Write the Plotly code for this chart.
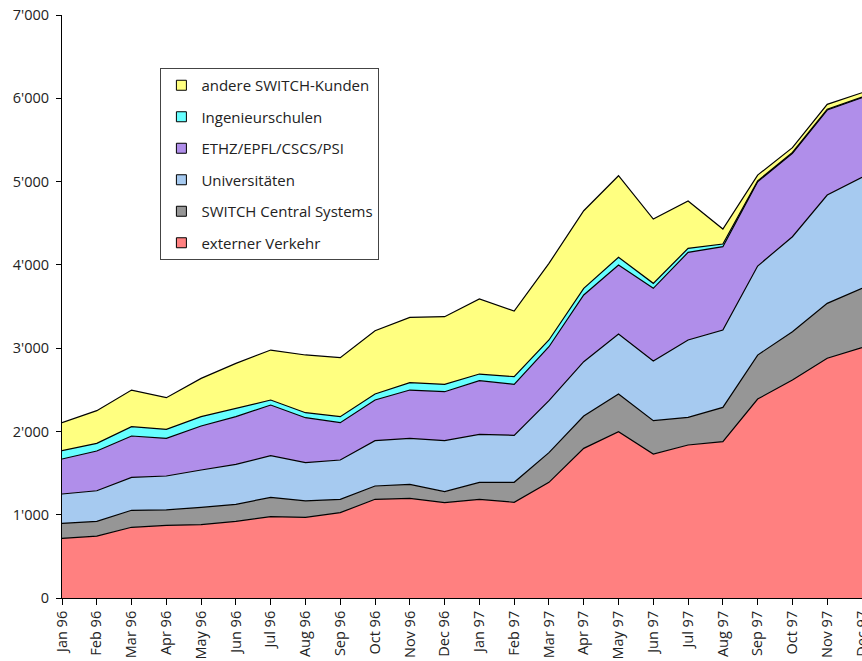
import plotly.graph_objects as go

months = ["Jan 96", "Feb 96", "Mar 96", "Apr 96", "May 96", "Jun 96", "Jul 96", "Aug 96",
          "Sep 96", "Oct 96", "Nov 96", "Dec 96", "Jan 97", "Feb 97", "Mar 97", "Apr 97",
          "May 97", "Jun 97", "Jul 97", "Aug 97", "Sep 97", "Oct 97", "Nov 97", "Dec 97"]

extern = [717, 744, 849, 873, 881, 921, 976, 969, 1025, 1185, 1197, 1144,
          1185, 1149, 1389, 1797, 1997, 1729, 1837, 1877, 2389, 2617, 2878, 3006]
central = [180, 177, 204, 184, 208, 204, 233, 196, 160, 160, 168, 133,
           204, 240, 356, 388, 452, 400, 332, 412, 528, 581, 660, 712]
unis = [352, 367, 396, 408, 448, 480, 500, 460, 472, 544, 552, 612,
        576, 564, 624, 652, 721, 716, 929, 929, 1069, 1140, 1300, 1333]
eth = [420, 477, 496, 452, 528, 572, 608, 540, 448, 488, 580, 588,
       644, 612, 648, 801, 828, 873, 1052, 1000, 1012, 1001, 1021, 956]
ing = [100, 92, 112, 108, 112, 100, 60, 60, 72, 72, 88, 88,
       80, 92, 81, 80, 92, 60, 48, 32, 10, 10, 10, 8]
andere = [336, 392, 440, 380, 460, 540, 600, 693, 708, 760, 785, 813,
          901, 789, 920, 932, 980, 772, 568, 180, 70, 58, 58, 52]

y_ticks = [0, 1000, 2000, 3000, 4000, 5000, 6000, 7000]
y_labels = ["0", "1'000", "2'000", "3'000", "4'000", "5'000", "6'000", "7'000"]

series = [
    ("externer Verkehr", extern, "#FF8080"),
    ("SWITCH Central Systems", central, "#969696"),
    ("Universitäten", unis, "#A6CAF0"),
    ("ETHZ/EPFL/CSCS/PSI", eth, "#B08EEA"),
    ("Ingenieurschulen", ing, "#66FFFF"),
    ("andere SWITCH-Kunden", andere, "#FFFF80"),
]

x = list(range(len(months)))
fig = go.Figure()
for name, vals, color in series:
    fig.add_trace(go.Scatter(
        x=x, y=vals, name=name, mode="lines",
        stackgroup="one", showlegend=False,
        line=dict(color="black", width=1.2),
        fillcolor=color, hoveron="points",
    ))

# legend entries with square swatches, top to bottom like the original
for rank, (name, vals, color) in enumerate(reversed(series)):
    fig.add_trace(go.Scatter(
        x=[None], y=[None], name=name, mode="markers",
        legendgroup=name, legendrank=rank + 1,
        marker=dict(symbol="square", size=10, color=color,
                    line=dict(color="black", width=1)),
    ))

fig.update_layout(
    width=862, height=661,
    margin=dict(l=62, r=0, t=15, b=63),
    plot_bgcolor="white", paper_bgcolor="white",
    font=dict(family="Open Sans, Noto Sans, sans-serif", size=13, color="#222222"),
    showlegend=True,
    legend=dict(
        x=0.123, y=(598 - 68) / 583, xanchor="left", yanchor="top",
        traceorder="grouped", tracegroupgap=9, itemwidth=30,
        bordercolor="#444444", borderwidth=1, bgcolor="white",
        font=dict(size=15),
    ),
)
fig.update_xaxes(
    range=[0, 23], tickvals=x, ticktext=months, tickangle=-90,
    showline=True, linecolor="black", linewidth=1,
    ticks="outside", ticklen=6, tickcolor="black",
    showgrid=False, zeroline=False, tickfont=dict(size=14.5),
    automargin=False, ticklabeloverflow="allow",
)
fig.update_yaxes(
    range=[0, 7000], tickvals=y_ticks, ticktext=y_labels,
    showline=True, linecolor="black", linewidth=1,
    ticks="outside", ticklen=5, tickcolor="black",
    showgrid=False, zeroline=False, tickfont=dict(size=14.5),
    automargin=False, ticklabelstandoff=4, ticklabeloverflow="allow",
)

# drop the default body margin so the figure fills the window exactly
fig.write_html("out.html", config={"displayModeBar": False},
               post_script="document.body.style.margin='0';")
